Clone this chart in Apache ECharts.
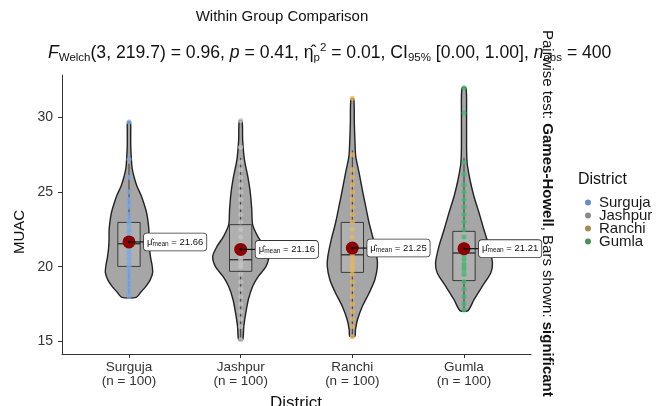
<!DOCTYPE html>
<html>
<head>
<meta charset="utf-8">
<script src="https://cdn.jsdelivr.net/npm/echarts@6/dist/echarts.min.js"></script>
<style>html,body{margin:0;padding:0;background:#fff;}</style>
</head>
<body>
<div id="main" style="width:669px;height:406px;"></div>
<script type="text/javascript">
// groups and summary stats
var districts = ['Surguja', 'Jashpur', 'Ranchi', 'Gumla'];
var groupSizes = [100, 100, 100, 100];
var yTicks = [15, 20, 25, 30];
var meanValues = [21.66, 21.16, 21.25, 21.21];
var q1Values = [20.02, 19.69, 19.62, 19.07];
var medianValues = [21.54, 20.47, 20.80, 20.92];
var q3Values = [22.97, 22.82, 22.97, 22.37];
var whiskerLow = [17.95, 15.1, 15.33, 17.06];
var whiskerHigh = [26.9, 27.3, 27.8, 27.3];

// violin outlines: [MUAC, relative density]
var densitySurguja = [[17.95, 0.25], [18.3, 0.42], [18.7, 0.60], [19.1, 0.74], [19.6, 0.83], [20.1, 0.81],
  [20.6, 0.76], [21.2, 0.72], [21.8, 0.70], [22.4, 0.70], [23.0, 0.67], [23.6, 0.62], [24.2, 0.53],
  [24.8, 0.42], [25.4, 0.28], [26.0, 0.18], [26.6, 0.11], [27.3, 0.08], [28.2, 0.06], [29.0, 0.06], [29.67, 0.05]];
var densityJashpur = [[15.1, 0.07], [16.0, 0.11], [16.9, 0.18], [17.8, 0.27], [18.68, 0.42], [19.35, 0.62],
  [20.02, 0.89], [20.7, 0.98], [21.36, 0.83], [22.03, 0.60], [22.82, 0.42], [23.82, 0.39], [24.94, 0.34],
  [26.05, 0.25], [27.2, 0.13], [28.5, 0.07], [29.78, 0.05]];
var densityRanchi = [[15.33, 0.09], [15.78, 0.11], [16.45, 0.18], [17.34, 0.35], [18.24, 0.59], [19.13, 0.79],
  [20.02, 0.88], [20.69, 0.86], [21.81, 0.74], [22.93, 0.59], [24.04, 0.47], [25.16, 0.35], [26.28, 0.24],
  [27.4, 0.12], [28.5, 0.09], [29.63, 0.07], [31.24, 0.05]];
var densityGumla = [[17.06, 0.14], [17.79, 0.35], [18.68, 0.64], [19.58, 0.94], [20.25, 1.00], [21.36, 0.88],
  [22.48, 0.70], [23.6, 0.53], [24.71, 0.35], [25.83, 0.21], [26.95, 0.11], [28.06, 0.09], [30.3, 0.09], [31.97, 0.07]];

// visible observations
var pointsSurguja = [29.7, 27.2, 26.0, 25.0, 24.5, 24.2, 24.0, 23.5, 23.2, 23.0, 22.8, 22.5, 22.3, 22.0, 21.8,
  21.5, 21.3, 21.0, 20.8, 20.5, 20.2, 20.0, 19.8, 19.5, 19.2, 19.0, 18.7, 18.5, 18.2, 18.0];
var pointsJashpur = [29.8, 28.0, 27.0, 26.5, 26.0, 25.5, 25.0, 24.5, 24.0, 23.5, 23.0, 22.5, 22.0, 21.5, 21.0,
  20.8, 20.5, 20.2, 20.0, 19.5, 19.0, 18.5, 18.0, 17.5, 17.0, 16.5, 16.0, 15.1];
var pointsRanchi = [31.3, 27.5, 26.5, 26.0, 25.5, 25.0, 24.5, 24.0, 23.5, 23.0, 22.5, 22.0, 21.5, 21.0, 20.8,
  20.5, 20.2, 20.0, 19.8, 19.5, 19.0, 18.5, 18.0, 17.5, 17.0, 16.5, 16.0, 15.3];
var pointsGumla = [32.0, 30.3, 27.0, 26.2, 25.5, 25.0, 24.5, 24.0, 23.5, 23.0, 22.5, 22.0, 21.5, 21.0, 20.8,
  20.5, 20.2, 20.0, 19.8, 19.5, 19.0, 18.5, 18.0, 17.5, 17.1];

var violinProfiles = [densitySurguja, densityJashpur, densityRanchi, densityGumla];
var groupPoints = [pointsSurguja, pointsJashpur, pointsRanchi, pointsGumla];

var pointColors = ['#7da8dc', '#c4c4c4', '#ebb45e', '#45b673'];
var legendColors = ['#6a8cbf', '#8a8a8a', '#a88a55', '#4a8f5c'];
var VIOLIN_HALF = 0.255;
var BOX_HALF = 0.1;

var myChart = echarts.init(document.getElementById('main'));

var groupRows = districts.map(function (d, i) { return [i + 1, medianValues[i]]; });

var series = [];

series.push({
  type: 'custom',
  name: 'violin',
  z: 1,
  data: groupRows,
  renderItem: function (params, api) {
    var i = params.dataIndex;
    var x = i + 1;
    var prof = violinProfiles[i];
    var right = prof.map(function (p) { return api.coord([x + p[1] * VIOLIN_HALF, p[0]]); });
    var left = prof.slice().reverse().map(function (p) { return api.coord([x - p[1] * VIOLIN_HALF, p[0]]); });
    return {
      type: 'polygon',
      shape: { points: right.concat(left), smooth: 0.25 },
      style: { fill: '#a6a6a6', stroke: '#222', lineWidth: 1.4 }
    };
  }
});

series.push({
  type: 'custom',
  name: 'box',
  z: 2,
  data: groupRows,
  renderItem: function (params, api) {
    var i = params.dataIndex;
    var x = i + 1;
    var tl = api.coord([x - BOX_HALF, q3Values[i]]);
    var br = api.coord([x + BOX_HALF, q1Values[i]]);
    var ml = api.coord([x - BOX_HALF, medianValues[i]]);
    var mr = api.coord([x + BOX_HALF, medianValues[i]]);
    var wl = api.coord([x, whiskerLow[i]]);
    var wq1 = api.coord([x, q1Values[i]]);
    var wq3 = api.coord([x, q3Values[i]]);
    var wh = api.coord([x, whiskerHigh[i]]);
    var ls = { stroke: '#3a3a3a', lineWidth: 1 };
    return {
      type: 'group',
      children: [
        { type: 'line', shape: { x1: wl[0], y1: wl[1], x2: wq1[0], y2: wq1[1] }, style: ls },
        { type: 'line', shape: { x1: wq3[0], y1: wq3[1], x2: wh[0], y2: wh[1] }, style: ls },
        { type: 'rect', shape: { x: tl[0], y: tl[1], width: br[0] - tl[0], height: br[1] - tl[1] },
          style: { fill: 'rgba(255,255,255,0.12)', stroke: '#3a3a3a', lineWidth: 1 } },
        { type: 'line', shape: { x1: ml[0], y1: ml[1], x2: mr[0], y2: mr[1] }, style: { stroke: '#2a2a2a', lineWidth: 1.3 } }
      ]
    };
  }
});

districts.forEach(function (name, i) {
  series.push({
    type: 'scatter',
    name: name,
    z: 3,
    symbolSize: 5,
    itemStyle: { color: pointColors[i], opacity: 0.8 },
    data: groupPoints[i].map(function (v) { return [i + 1, v]; })
  });
});

series.push({
  type: 'custom',
  name: 'means',
  z: 4,
  data: districts.map(function (d, i) { return [i + 1, meanValues[i]]; }),
  renderItem: function (params, api) {
    var i = params.dataIndex;
    var c = api.coord([i + 1, meanValues[i]]);
    return {
      type: 'group',
      children: [
        { type: 'circle', shape: { cx: c[0], cy: c[1], r: 6.5 }, style: { fill: '#8b0000' } },
        { type: 'line', shape: { x1: c[0], y1: c[1], x2: c[0] + 15, y2: c[1] }, style: { stroke: '#111', lineWidth: 1.2 } },
        { type: 'circle', shape: { cx: c[0], cy: c[1], r: 1.2 }, style: { fill: '#111' } },
        {
          type: 'text',
          x: c[0] + 15,
          y: c[1],
          style: {
            text: '{m|μ̂}{s|mean}{t| = ' + meanValues[i].toFixed(2) + '}',
            align: 'left',
            verticalAlign: 'middle',
            backgroundColor: '#fff',
            borderColor: '#333',
            borderWidth: 0.8,
            borderRadius: 3,
            padding: [3, 3, 3, 3],
            rich: {
              m: { fontSize: 9.5, fontFamily: 'Liberation Sans', fill: '#111', lineHeight: 11 },
              s: { fontSize: 6.5, fontFamily: 'Liberation Sans', fill: '#111', verticalAlign: 'bottom', lineHeight: 8 },
              t: { fontSize: 9.5, fontFamily: 'Liberation Sans', fill: '#111', lineHeight: 11 }
            }
          }
        }
      ]
    };
  }
});

var axisColor = '#333';

option = {
  backgroundColor: '#fff',
  animation: false,
  textStyle: { fontFamily: 'Liberation Sans' },
  grid: { left: 62, right: 138, top: 75, bottom: 52 },
  legend: {
    orient: 'vertical',
    left: 580,
    top: 190,
    itemWidth: 6,
    itemHeight: 6,
    itemGap: -2,
    icon: 'circle',
    selectedMode: false,
    textStyle: { fontSize: 15, color: '#1a1a1a', padding: [0, 0, 0, 3] },
    data: districts.map(function (d, i) { return { name: d, itemStyle: { color: legendColors[i], opacity: 1 } }; })
  },
  xAxis: {
    type: 'value',
    min: 0.4,
    max: 4.6,
    splitLine: { show: false },
    axisLine: { show: true, onZero: false, lineStyle: { color: axisColor, width: 1 } },
    axisTick: { show: true, length: 4, customValues: [1, 2, 3, 4], lineStyle: { color: axisColor } },
    axisLabel: {
      customValues: [1, 2, 3, 4],
      margin: 6,
      fontSize: 13.5,
      lineHeight: 14,
      color: '#333',
      formatter: function (v) { return districts[v - 1] + '\n(n = ' + groupSizes[v - 1] + ')'; }
    }
  },
  yAxis: {
    type: 'value',
    min: 14.15,
    max: 32.85,
    splitLine: { show: false },
    axisLine: { show: true, onZero: false, lineStyle: { color: axisColor, width: 1 } },
    axisTick: { show: true, length: 4, customValues: yTicks, lineStyle: { color: axisColor } },
    axisLabel: { customValues: yTicks, margin: 9, fontSize: 14, color: '#333' }
  },
  graphic: [
    { type: 'text', x: 282, y: 17, style: { text: 'Within Group Comparison', font: '15px "Liberation Sans"', fill: '#111', align: 'center', verticalAlign: 'middle' } },
    {
      type: 'text', x: 48, y: 53,
      style: {
        text: '{i|F}{s|Welch}{n|(3, 219.7) = 0.96, }{i|p}{n| = 0.41, }{n|η̂}{s|p}{u|2}{n| = 0.01, CI}{s|95%}{n| [0.00, 1.00], }{i|n}{s|obs}{n| = 400}',
        align: 'left', verticalAlign: 'middle',
        rich: {
          n: { fontSize: 17.6, fontFamily: 'Liberation Sans', fill: '#111', lineHeight: 22 },
          i: { fontSize: 17.6, fontFamily: 'Liberation Sans', fontStyle: 'italic', fill: '#111', lineHeight: 22 },
          s: { fontSize: 11.5, fontFamily: 'Liberation Sans', fill: '#111', verticalAlign: 'bottom', lineHeight: 12 },
          u: { fontSize: 11.5, fontFamily: 'Liberation Sans', fill: '#111', verticalAlign: 'top', lineHeight: 12 }
        }
      }
    },
    {
      type: 'text', x: 547, y: 30, rotation: -Math.PI / 2,
      style: {
        text: '{n|Pairwise test: }{b|Games-Howell}{n|, Bars shown: }{b|significant}',
        align: 'left', verticalAlign: 'middle',
        rich: {
          n: { fontSize: 15, fontFamily: 'Liberation Sans', fill: '#111' },
          b: { fontSize: 15, fontFamily: 'Liberation Sans', fontWeight: 'bold', fill: '#111' }
        }
      }
    },
    { type: 'text', x: 20, y: 232, rotation: Math.PI / 2, style: { text: 'MUAC', font: '15px "Liberation Sans"', fill: '#111', align: 'center', verticalAlign: 'middle' } },
    { type: 'text', x: 296, y: 403, style: { text: 'District', font: '17px "Liberation Sans"', fill: '#111', align: 'center', verticalAlign: 'middle' } },
    { type: 'text', x: 578, y: 180, style: { text: 'District', font: '16px "Liberation Sans"', fill: '#111', align: 'left', verticalAlign: 'middle' } }
  ],
  series: series
};

myChart.setOption(option);
</script>
</body>
</html>
